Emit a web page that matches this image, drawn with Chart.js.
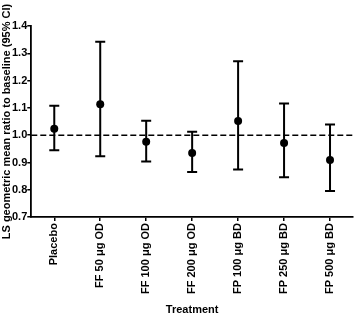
<!DOCTYPE html>
<html>
<head>
<meta charset="utf-8">
<script src="https://cdn.jsdelivr.net/npm/chart.js@4"></script>
<style>
  html, body { margin: 0; padding: 0; background: #fff; }
  #wrap { width: 357px; height: 316px; }
</style>
</head>
<body>
<div id="wrap"><canvas id="chartRatio"></canvas></div>
<script>
// treatments and geometric mean ratio (95% CI)
const treatments = ['Placebo', 'FF 50 μg OD', 'FF 100 μg OD', 'FF 200 μg OD', 'FP 100 μg BD', 'FP 250 μg BD', 'FP 500 μg BD'];
const ratio = [1.024, 1.113, 0.976, 0.935, 1.052, 0.971, 0.909];
const ciLow = [0.945, 0.923, 0.904, 0.865, 0.874, 0.846, 0.796];
const ciHigh = [1.108, 1.342, 1.053, 1.013, 1.271, 1.116, 1.039];
const yTicks = [0.7, 0.8, 0.9, 1.0, 1.1, 1.2, 1.3, 1.4];
const refLine = 1.0;

const font = { family: '"Liberation Sans", Arial, sans-serif', weight: 'bold', size: 11 };

// error bars + dashed reference line, drawn through the chart scales
const errorBars = {
    id: 'errorBars',
    beforeDatasetsDraw(chart) {
        const { ctx, chartArea, scales } = chart;
        const x = scales.x, y = scales.y;
        ctx.save();
        ctx.strokeStyle = '#000';
        ctx.lineWidth = 1.6;
        ctx.setLineDash([6, 3]);
        const yr = y.getPixelForValue(refLine);
        ctx.beginPath();
        ctx.moveTo(chartArea.left, yr);
        ctx.lineTo(chartArea.right, yr);
        ctx.stroke();
        ctx.setLineDash([]);
        ctx.lineWidth = 2;
        treatments.forEach((t, i) => {
            const px = x.getPixelForValue(i);
            const lo = y.getPixelForValue(ciLow[i]);
            const hi = y.getPixelForValue(ciHigh[i]);
            ctx.beginPath();
            ctx.moveTo(px, lo); ctx.lineTo(px, hi);
            ctx.moveTo(px - 5, lo); ctx.lineTo(px + 5, lo);
            ctx.moveTo(px - 5, hi); ctx.lineTo(px + 5, hi);
            ctx.stroke();
        });
        ctx.restore();
    }
};

new Chart(document.getElementById('chartRatio'), {
    type: 'line',
    data: {
        labels: treatments,
        datasets: [{
            data: ratio,
            showLine: false,
            pointRadius: 4,
            pointBackgroundColor: '#000',
            pointBorderColor: '#000',
            pointBorderWidth: 0
        }]
    },
    options: {
        responsive: true,
        maintainAspectRatio: false,
        animation: false,
        layout: { padding: { top: 26, right: 0, left: 0, bottom: 0 } },
        plugins: { legend: { display: false }, tooltip: { enabled: false } },
        scales: {
            x: {
                offset: true,
                grid: { display: true, drawOnChartArea: false, tickLength: 4, color: '#000', lineWidth: 1.5 },
                border: { color: '#000', width: 1.8 },
                ticks: { color: '#000', font: font, minRotation: 90, maxRotation: 90, padding: 2 },
                title: { display: true, text: 'Treatment', color: '#000', font: { ...font, lineHeight: 1 }, padding: { top: 8, bottom: 1 } }
            },
            y: {
                min: 0.7,
                max: 1.4,
                afterBuildTicks(axis) { axis.ticks = yTicks.map(v => ({ value: v })); },
                grid: { display: true, drawOnChartArea: false, tickLength: 4, color: '#000', lineWidth: 1.5 },
                border: { color: '#000', width: 1.8 },
                ticks: { color: '#000', font: font, padding: 0, callback: v => v.toFixed(1) },
                title: { display: true, text: 'LS geometric mean ratio to baseline (95% CI)', color: '#000', font: { ...font, lineHeight: 1 }, padding: { top: 1, bottom: 0 } }
            }
        }
    },
    plugins: [errorBars]
});
</script>
</body>
</html>
